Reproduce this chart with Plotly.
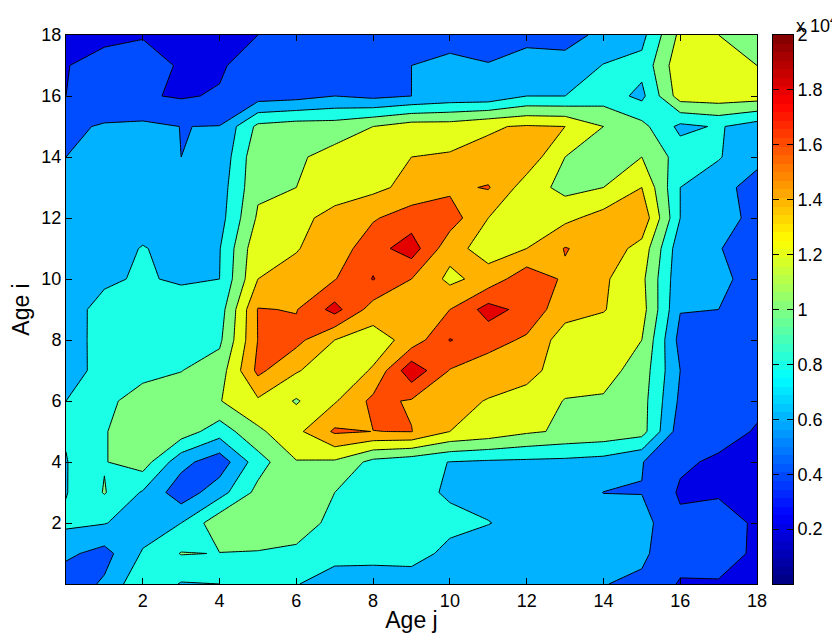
import plotly.graph_objects as go

ages_j = list(range(19))
ages_i = list(range(19))
# Contact values (thousands); first row is age i = 18
rows_top_down = [
 [3.3,3.4,3.9,3.3,3.4,4.0,4.6,4.7,4.7,5.0,5.1,5.1,5.5,5.7,6.2,7.4,12.5,12.0,11.0],
 [3.9,4.9,4.6,3.85,3.7,5.2,5.4,5.5,5.6,6.0,6.6,6.1,6.7,6.3,8.1,8.6,13.4,13.2,12.0],
 [4.0,4.5,4.2,3.8,4.2,5.0,5.3,6.0,5.5,6.0,6.6,6.6,8.0,8.0,9.0,7.5,13.0,13.2,13.0],
 [5.6,6.2,6.4,5.98,6.05,10.5,11.0,11.0,12.0,13.0,13.0,13.8,14.2,14.0,12.0,10.6,7.5,8.2,7.0],
 [6.0,6.6,7.0,6.0,6.5,11.5,11.7,12.7,13.2,14.0,14.2,14.5,15.3,12.0,10.8,12.0,9.1,8.1,7.0],
 [6.2,6.7,7.1,7.0,7.0,11.6,12.0,12.8,13.5,14.6,15.6,16.15,13.0,11.4,12.0,14.0,8.0,7.2,4.6],
 [6.3,6.8,7.2,7.2,7.2,12.3,13.3,14.8,15.8,17.0,17.0,14.0,13.1,13.5,14.8,15.5,8.0,7.0,5.3],
 [6.5,7.2,8.1,7.4,7.9,13.5,13.9,14.9,17.2,19.0,14.7,13.2,14.0,16.1,15.2,13.3,6.7,6.1,5.0],
 [6.6,7.6,8.3,7.6,8.0,14.0,14.6,15.9,18.1,16.0,13.5,14.8,17.3,15.7,14.3,12.5,6.5,6.3,5.5],
 [7.0,8.8,9.3,9.6,9.0,16.1,15.9,18.7,15.1,14.8,16.0,18.8,17.3,14.8,14.1,12.8,6.1,6.0,5.5],
 [6.9,8.9,9.3,9.6,9.6,16.05,16.6,14.0,13.0,14.8,18.1,16.75,15.7,13.0,13.0,12.0,5.3,5.0,4.7],
 [7.0,8.8,9.5,9.95,11.0,16.5,14.2,12.6,14.2,19.4,15.9,15.0,14.6,13.1,12.8,11.1,6.0,5.0,4.6],
 [8.0,9.6,10.7,11.0,11.9,13.7,11.8,13.8,16.5,15.8,14.6,13.9,13.3,11.9,11.75,10.8,5.6,5.0,4.4],
 [8.2,9.9,11.0,11.1,8.9,11.6,13.5,16.3,15.98,16.05,14.0,13.3,12.3,11.7,11.4,10.8,4.9,4.7,3.85],
 [7.9,9.9,11.0,6.65,4.8,9.1,11.9,11.7,9.4,8.7,7.95,7.7,7.6,7.5,7.2,6.08,4.3,3.7,3.0],
 [7.9,10.12,7.8,4.8,7.2,10.6,10.9,10.0,8.9,8.5,7.8,7.5,7.4,7.1,5.97,5.95,3.75,3.85,3.1],
 [8.4,8.1,7.0,8.0,11.4,11.0,10.7,9.6,9.2,8.9,8.4,8.05,7.5,7.3,7.0,6.7,4.4,4.6,3.8],
 [6.4,5.3,8.2,10.1,9.95,9.9,9.7,8.7,8.5,8.6,7.6,7.2,7.0,6.8,6.4,6.3,4.8,4.5,3.8],
 [4.8,6.3,9.7,7.85,8.0,8.4,8.1,7.0,7.2,7.2,7.0,6.8,6.6,6.4,6.05,5.7,3.8,3.9,3.0],
]
x_ticks = [2, 4, 6, 8, 10, 12, 14, 16, 18]
y_ticks = [2, 4, 6, 8, 10, 12, 14, 16, 18]
cb_ticks = [0.2, 0.4, 0.6, 0.8, 1.0, 1.2, 1.4, 1.6, 1.8, 2.0]
cb_labels = ["0.2", "0.4", "0.6", "0.8", "1", "1.2", "1.4", "1.6", "1.8", "2"]


def jet(t):
    def ch(v):
        return int(round(255 * max(0.0, min(1.0, v))))
    return "rgb(%d,%d,%d)" % (ch(1.5 - abs(4 * t - 3)), ch(1.5 - abs(4 * t - 2)), ch(1.5 - abs(4 * t - 1)))


z = [[v * 1000 for v in row] for row in rows_top_down[::-1]]
band_colors = [[i / 9, jet(i / 10)] for i in range(10)]
n_steps = 64
cb_y = [(k + 0.5) * 2 / n_steps for k in range(n_steps)]
cb_scale = [[k / (n_steps - 1), jet((k + 0.5) / n_steps)] for k in range(n_steps)]

FONT = "Liberation Sans"
W, H = 832, 631  # page body keeps an 8px margin
fig = go.Figure()
fig.add_trace(go.Contour(
    x=ages_j, y=ages_i, z=z, colorscale=band_colors, showscale=False,
    autocontour=False,
    contours=dict(start=2000, end=18000, size=2000, coloring="fill", showlines=True),
    line=dict(color="black", width=1, smoothing=0),
    hoverinfo="skip",
))
fig.add_trace(go.Heatmap(
    x=[0], y=cb_y, z=[[v] for v in cb_y], zmin=cb_y[0], zmax=cb_y[-1],
    colorscale=cb_scale, showscale=False, xaxis="x2", yaxis="y2", hoverinfo="skip",
))

axis_common = dict(showgrid=False, zeroline=False, showline=True, linecolor="black", linewidth=1,
                   ticks="inside", ticklen=6, tickwidth=1, tickcolor="black", mirror="ticks",
                   automargin=False,
                   tickfont=dict(family=FONT, size=18, color="black"))
y_dom = [(H - 576) / H, (H - 27) / H]
fig.update_layout(
    width=W, height=H, margin=dict(l=0, r=0, t=0, b=0, autoexpand=False),
    paper_bgcolor="white", plot_bgcolor="white", showlegend=False,
    font=dict(family=FONT, color="black"),
    xaxis=dict(domain=[58 / W, 749 / W], range=[0, 18], tickvals=x_ticks,
               title=dict(text="Age j", font=dict(family=FONT, size=23), standoff=2), **axis_common),
    yaxis=dict(domain=y_dom, range=[0, 18], tickvals=y_ticks,
               title=dict(text="Age i", font=dict(family=FONT, size=23), standoff=8), **axis_common),
    xaxis2=dict(domain=[765 / W, 785 / W], range=[-0.5, 0.5], showticklabels=False,
                showline=True, linecolor="black", linewidth=1, mirror=True, ticks="",
                showgrid=False, zeroline=False, anchor="y2", automargin=False),
    yaxis2=dict(domain=y_dom, range=[0, 2], side="right", tickvals=cb_ticks,
                ticktext=cb_labels, anchor="x2", **axis_common),
    annotations=[dict(text="x 10<sup>4</sup>", xref="paper", yref="paper", x=786 / W, y=(H - 30) / H,
                      xanchor="left", yanchor="bottom", showarrow=False,
                      font=dict(family=FONT, size=18, color="black"))],
)
fig.write_html("out.html")
